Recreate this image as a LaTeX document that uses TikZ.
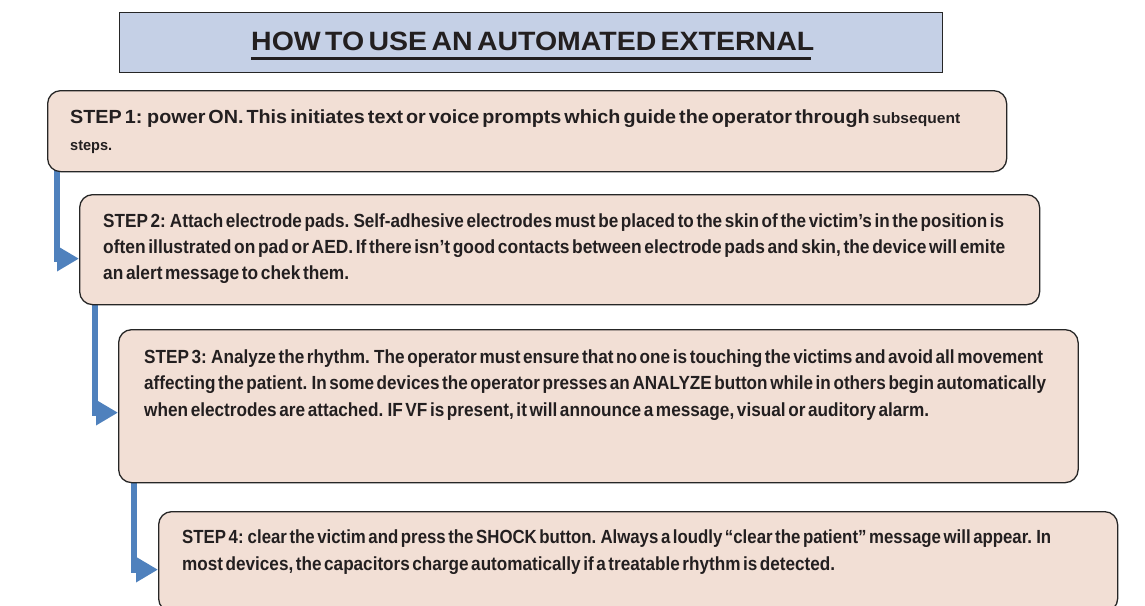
\documentclass[tikz,border=0pt]{standalone}
\usepackage{fontspec}
\usepackage{graphicx}
\setmainfont{Liberation Sans}[WordSpace=0.55]
\usetikzlibrary{arrows.meta,backgrounds}
\definecolor{boxfill}{HTML}{F2DFD5}
\definecolor{titlefill}{HTML}{C5D0E6}
\definecolor{arrowblue}{HTML}{4F81BD}
\definecolor{edgegray}{HTML}{262626}
\definecolor{ink}{HTML}{231F20}
\newcommand\fitto[2]{\hbox{\resizebox{#1pt}{\height}{#2}}}
\newcommand\stepsize{\fontsize{19}{19}\selectfont\bfseries}
\newcommand\smallsize{\fontsize{15}{15}\selectfont}
\newcommand\stacklines[2]{\vtop{\baselineskip=#1pt\lineskiplimit=-100pt\lineskip=0pt #2}}
\begin{document}
\begin{tikzpicture}[x=1pt,y=-1pt,
  stepbox/.style={draw=edgegray, line width=1.3pt, fill=boxfill, rounded corners=13pt, inner sep=0pt, anchor=north west},
  flow/.style={draw=arrowblue, line width=6pt, -{Triangle[length=22pt,width=24pt]}},
  txt/.style={anchor=base west, inner sep=0pt, text=ink, font=\stepsize}]
\useasboundingbox (0,0) rectangle (1145,605);
\begin{scope}
\clip (0,0) rectangle (1145,605);
% title
\node[draw=edgegray, line width=1.2pt, fill=titlefill, minimum width=823pt, minimum height=60pt, inner sep=0pt, anchor=north west] (title) at (119,12) {};
\node[anchor=base west, inner sep=0pt, text=ink] (ttl) at (251,50.5) {\fitto{563}{\fontsize{26.5}{26.5}\selectfont\bfseries HOW TO USE AN AUTOMATED EXTERNAL}};
\draw[ink, line width=2.7pt] ([yshift=-8.2pt]ttl.base west) -- ([yshift=-8.2pt,xshift=-3pt]ttl.base east);
% boxes
\node[stepbox, minimum width=959pt, minimum height=81pt] (s1) at (47,90) {};
\node[stepbox, minimum width=960pt, minimum height=110pt] (s2) at (79,194) {};
\node[stepbox, minimum width=959.5pt, minimum height=153pt] (s3) at (118,329) {};
\node[stepbox, minimum width=959pt, minimum height=100pt] (s4) at (158,511) {};
% texts
\node[txt] (t1) at (70,123.5) {\stacklines{26.5}{%
\fitto{890}{STEP 1: power ON. This initiates text or voice prompts which guide the operator through {\smallsize subsequent}}
\fitto{42}{\smallsize steps.}}};
\node[txt] (t2) at (103,227) {\stacklines{26}{%
\fitto{901}{STEP 2: Attach electrode pads. Self-adhesive electrodes must be placed to the skin of the victim’s in the position is}
\fitto{902}{often illustrated on pad or AED. If there isn’t good contacts between electrode pads and skin, the device will emite}
\fitto{246}{an alert message to chek them.}}};
\node[txt] (t3) at (144,363) {\stacklines{26.5}{%
\fitto{899}{STEP 3: Analyze the rhythm. The operator must ensure that no one is touching the victims and avoid all movement}
\fitto{902}{affecting the patient. In some devices the operator presses an ANALYZE button while in others begin automatically}
\fitto{785}{when electrodes are attached. IF VF is present, it will announce a message, visual or auditory alarm.}}};
\node[txt] (t4) at (182,543.3) {\stacklines{26.7}{%
\fitto{869}{STEP 4: clear the victim and press the SHOCK button. Always a loudly “clear the patient” message will appear. In}
\fitto{653}{most devices, the capacitors charge automatically if a treatable rhythm is detected.}}};
\end{scope}
% connectors
\begin{scope}[on background layer]
\draw[flow] ([xshift=9.5pt,yshift=6pt]s1.south west) |- ([yshift=-9pt]s2.west);
\draw[flow] ([xshift=15.5pt,yshift=6pt]s2.south west) |- ([yshift=-6.5pt]s3.west);
\draw[flow] ([xshift=16pt,yshift=6pt]s3.south west) |- ([yshift=-8pt]s4.west);
\end{scope}
\end{tikzpicture}
\end{document}
